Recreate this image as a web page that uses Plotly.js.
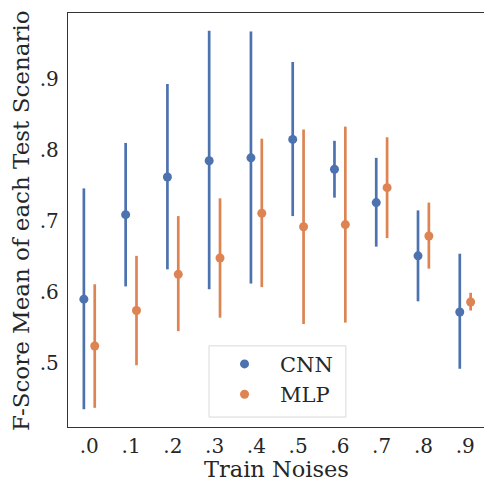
<!DOCTYPE html>
<html>
<head>
<meta charset="utf-8">
<script src="https://cdn.plot.ly/plotly-3.0.1.min.js"></script>
<style>html,body{margin:0;padding:0;background:#fff;}#chart{width:484px;height:481px;}</style>
</head>
<body>
<div id="chart"></div>
<script>
const categories = [".0", ".1", ".2", ".3", ".4", ".5", ".6", ".7", ".8", ".9"];
const cnnMean = [0.590, 0.709, 0.762, 0.785, 0.789, 0.815, 0.773, 0.726, 0.651, 0.572];
const cnnHigh = [0.746, 0.810, 0.893, 0.968, 0.967, 0.924, 0.813, 0.789, 0.715, 0.654];
const cnnLow  = [0.435, 0.608, 0.632, 0.604, 0.612, 0.707, 0.733, 0.664, 0.587, 0.492];
const mlpMean = [0.524, 0.574, 0.625, 0.648, 0.711, 0.692, 0.695, 0.747, 0.679, 0.586];
const mlpHigh = [0.611, 0.651, 0.707, 0.732, 0.816, 0.829, 0.833, 0.818, 0.726, 0.599];
const mlpLow  = [0.437, 0.497, 0.545, 0.564, 0.607, 0.555, 0.557, 0.676, 0.633, 0.574];
const yTickVals = [0.5, 0.6, 0.7, 0.8, 0.9];
const yTickText = [".5", ".6", ".7", ".8", ".9"];
const xTitle = "Train Noises";
const yTitle = "F-Score Mean of each Test Scenario";

const FONT = "'DejaVu Serif', serif";
const TXT = "#262626";

function mk(name, mean, hi, lo, color) {
  return {
    type: "scatter", mode: "markers", name: name,
    x: categories, y: mean,
    marker: {color: color, size: 9},
    error_y: {
      type: "data", symmetric: false,
      array: mean.map((m, i) => hi[i] - m),
      arrayminus: mean.map((m, i) => m - lo[i]),
      color: color, thickness: 2.7, width: 0
    },
    offsetgroup: name
  };
}

const data = [
  mk("CNN", cnnMean, cnnHigh, cnnLow, "#4C72B0"),
  mk("MLP", mlpMean, mlpHigh, mlpLow, "#DD8452")
];

const layout = {
  width: 484, height: 481,
  margin: {l: 68, r: 0, t: 13, b: 54},
  paper_bgcolor: "#fff", plot_bgcolor: "#fff",
  scattermode: "group", scattergap: 0.48,
  font: {family: FONT, size: 20, color: TXT},
  showlegend: true,
  legend: {
    x: 0.339, y: 0.201, xanchor: "left", yanchor: "top",
    bgcolor: "rgba(0,0,0,0)", borderwidth: 0,
    font: {family: FONT, size: 21, color: TXT},
    itemwidth: 61, tracegroupgap: 0
  },
  shapes: [{
    type: "rect", xref: "paper", yref: "paper", layer: "above",
    x0: 0.339, x1: 0.668, y0: 0.024, y1: 0.196,
    line: {color: "#d9d9d9", width: 1}, fillcolor: "rgba(255,255,255,0.8)"
  }],
  annotations: [
    {text: xTitle, xref: "paper", yref: "paper", x: 0.5024, y: -0.1015,
     xanchor: "center", yanchor: "middle", showarrow: false, borderpad: 0,
     font: {family: FONT, size: 22.5, color: TXT}},
    {text: yTitle, xref: "paper", yref: "paper", x: -0.113, y: 0.5,
     xanchor: "center", yanchor: "middle", showarrow: false, textangle: -90,
     font: {family: FONT, size: 23, color: TXT}}
  ],
  xaxis: {
    type: "category", range: [-0.51, 9.45],
    showgrid: false, zeroline: false,
    showline: true, mirror: true, linecolor: "#333", linewidth: 1.25,
    ticks: "", tickfont: {family: FONT, size: 20, color: TXT},
    ticklabelstandoff: 1
  },
  yaxis: {
    range: [0.410, 0.993],
    showgrid: false, zeroline: false,
    showline: true, mirror: false, linecolor: "#333", linewidth: 1.25,
    ticks: "", tickvals: yTickVals, ticktext: yTickText,
    tickfont: {family: FONT, size: 20, color: TXT},
    ticklabelstandoff: 4
  }
};

Plotly.newPlot("chart", data, layout, {displayModeBar: false, staticPlot: true});
</script>
</body>
</html>
